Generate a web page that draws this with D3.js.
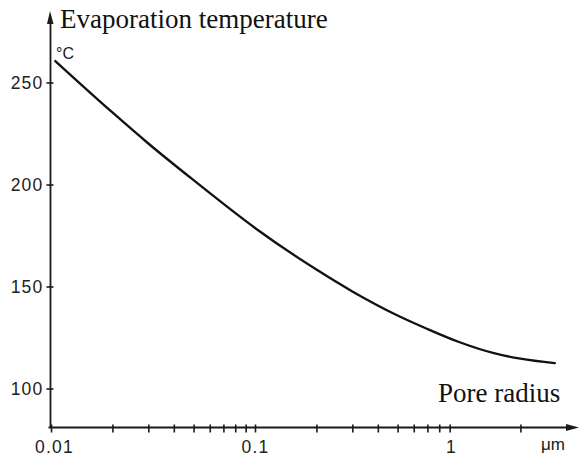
<!DOCTYPE html>
<html><head><meta charset="utf-8">
<script src="https://cdn.jsdelivr.net/npm/d3@7"></script>
<style>
body{margin:0;background:#fff;}
svg{display:block;}
.tk text{font-family:"Liberation Sans",Arial,sans-serif;font-size:17.5px;letter-spacing:1.2px;fill:#222;}
.serif{font-family:"Liberation Serif","Times New Roman","DejaVu Serif",serif;font-size:27px;fill:#111;}
.sans{font-family:"Liberation Sans",Arial,sans-serif;fill:#1a1a1a;}
</style></head>
<body><svg id="c" width="581" height="456"></svg>
<script>
// Data
const poreRadius = [0.0105, 0.02, 0.03, 0.05, 0.1, 0.2, 0.3, 0.5, 0.7, 1, 1.5, 2, 2.95];
const evapTemp   = [260.5, 235.3, 220.1, 202.1, 178.7, 158.3, 147.6, 135.8, 129.2, 122.8, 117.2, 114.6, 112.4];
const yTicks = [100, 150, 200, 250];
const xTickMarks = [0.01,0.02,0.03,0.04,0.05,0.06,0.07,0.08,0.09,0.1,0.2,0.3,0.4,0.5,0.6,0.7,0.8,0.9,2];
const xLabelValues = [0.01, 0.1, 1];
const xLabelTexts = ["0.01", "0.1", "1"];

const svg = d3.select("#c");
const x = d3.scaleLog().domain([0.01, 1]).range([51, 459]);
const y = d3.scaleLinear().domain([100, 250]).range([388.5, 82.5]);
const axisY0 = 427.5, axisX0 = 50.5;
const ink = "#1a1a1a";

// X axis ticks via d3 axis
const gx = svg.append("g").attr("class","tk").attr("transform",`translate(0,${axisY0})`)
  .call(d3.axisBottom(x).tickValues(xTickMarks).tickSize(5).tickFormat(""));
gx.select(".domain").remove();
gx.selectAll(".tick line").attr("y1",-3).attr("stroke",ink).attr("stroke-width",1.6);

// X labels
const gxl = svg.append("g").attr("class","tk").attr("transform",`translate(0,${axisY0})`)
  .call(d3.axisBottom(x).tickValues(xLabelValues).tickSize(0)
    .tickFormat((d,i)=>xLabelTexts[i]));
gxl.select(".domain").remove();
gxl.selectAll(".tick text").attr("y",25).attr("dy",0).attr("fill",ink)
  .attr("dx",(d)=> d===1 ? -8 : (d===0.01 ? 3 : 0));

// Y axis ticks
const gy = svg.append("g").attr("class","tk").attr("transform",`translate(${axisX0},0)`)
  .call(d3.axisLeft(y).tickValues(yTicks).tickSize(4).tickPadding(4));
gy.select(".domain").remove();
gy.selectAll(".tick line").attr("x2",3).attr("x1",-4).attr("stroke",ink).attr("stroke-width",1.6);
gy.selectAll(".tick text").attr("x",-7).attr("fill",ink).attr("dy","0.36em");

// Axis lines with arrows
svg.append("line").attr("x1",48.5).attr("x2",566).attr("y1",axisY0).attr("y2",axisY0)
  .attr("stroke",ink).attr("stroke-width",1.8);
svg.append("path").attr("d",`M579,${axisY0} L566,${axisY0-3.5} L566,${axisY0+3.5} Z`).attr("fill",ink);
svg.append("line").attr("x1",axisX0).attr("x2",axisX0).attr("y1",axisY0).attr("y2",22)
  .attr("stroke",ink).attr("stroke-width",1.8);
svg.append("path").attr("d",`M${axisX0-0.5},11 L${axisX0-3.5},24 L${axisX0+3},24 Z`).attr("fill",ink);

// Curve
const pts = poreRadius.map((r,i)=>[r, evapTemp[i]]);
svg.append("path").datum(pts)
  .attr("d", d3.line().x(d=>x(d[0])).y(d=>y(d[1])).curve(d3.curveMonotoneX))
  .attr("fill","none").attr("stroke","#111").attr("stroke-width",2.3).attr("stroke-linecap","round");

// Texts
svg.append("text").attr("class","serif").attr("x",60).attr("y",27.5)
  .text("Evaporation temperature");
svg.append("text").attr("class","serif").attr("x",438).attr("y",401.5)
  .text("Pore radius");
svg.append("text").attr("class","sans").attr("x",56).attr("y",58.5).style("font-size","16px")
  .text("°C");
svg.append("text").attr("class","sans").attr("x",553).attr("y",450).attr("text-anchor","middle")
  .style("font-size","17px").text("μm");
</script></body></html>
